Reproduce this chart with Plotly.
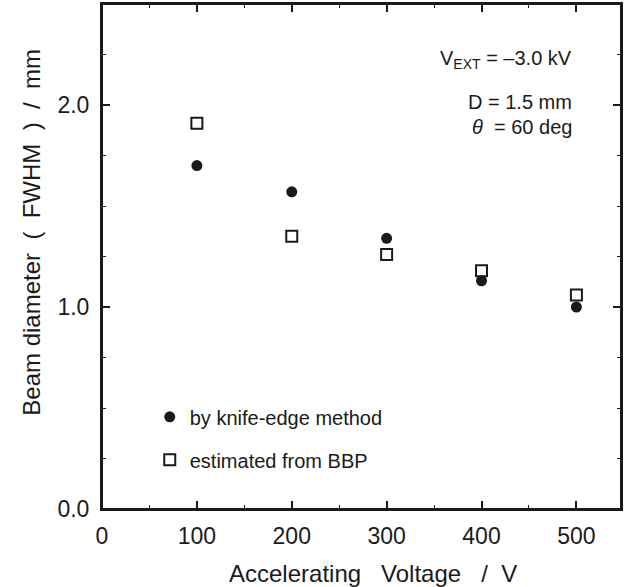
import plotly.graph_objects as go

voltage = [100, 200, 300, 400, 500]
knife_edge = [1.70, 1.57, 1.34, 1.13, 1.00]
bbp_estimate = [1.91, 1.35, 1.26, 1.18, 1.06]
x_ticks = [0, 100, 200, 300, 400, 500]
y_ticks = [0.0, 1.0, 2.0]
y_tick_labels = ["0.0", "1.0", "2.0"]

FONT = "Liberation Sans, Arial, Helvetica, sans-serif"
INK = "#1a1a1a"
NB = "\u00a0"

fig = go.Figure()
fig.add_trace(go.Scatter(x=voltage, y=knife_edge, mode="markers", name="by knife-edge method",
                         legendgroup="a",
                         marker=dict(symbol="circle", size=11, color=INK)))
fig.add_trace(go.Scatter(x=voltage, y=bbp_estimate, mode="markers", name="estimated from BBP",
                         legendgroup="b",
                         marker=dict(symbol="square-open", size=11, color=INK,
                                     line=dict(width=2, color=INK))))

axis_common = dict(showline=True, linecolor=INK, linewidth=2, mirror="allticks",
                   ticks="inside", ticklen=8, tickwidth=1.5, tickcolor=INK,
                   showgrid=False, zeroline=False, automargin=False,
                   tickfont=dict(family=FONT, size=23, color=INK))

fig.update_xaxes(range=[0, 547], tickvals=x_ticks, ticklabelstandoff=5,
                 minor=dict(dtick=50, ticks="inside", ticklen=4, tickcolor=INK, tickwidth=1.2),
                 **axis_common)
fig.update_yaxes(range=[0, 2.5], tickvals=y_ticks, ticktext=y_tick_labels, ticklabelstandoff=6,
                 minor=dict(dtick=0.25, ticks="inside", ticklen=4, tickcolor=INK, tickwidth=1.2),
                 **axis_common)

# plot frame
fig.add_shape(type="rect", xref="paper", yref="paper", x0=0, x1=1, y0=0, y1=1,
              line=dict(color=INK, width=2), fillcolor="rgba(0,0,0,0)", layer="above")

title_font = dict(family=FONT, size=24, color=INK)
fig.add_annotation(xref="paper", yref="paper", x=0.523, y=-0.127, xanchor="center", yanchor="middle",
                   text="Accelerating" + NB * 3 + "Voltage" + NB * 3 + "/" + NB * 2 + "V",
                   showarrow=False, font=title_font)
fig.add_annotation(xref="paper", yref="paper", x=-0.135, y=0.549, xanchor="center", yanchor="middle",
                   textangle=-90,
                   text="Beam" + NB + "diameter" + NB * 2 + "(" + NB * 2 + "FWHM" + NB * 2 + ")" + NB * 2 + "/" + NB * 2 + "mm",
                   showarrow=False, font=dict(family=FONT, size=24, color=INK))

ann_font = dict(family=FONT, size=20, color=INK)
fig.add_annotation(xref="paper", yref="paper", x=0.91, y=0.891, xanchor="right", yanchor="middle",
                   text="V<sub>EXT</sub> = –3.0 kV", showarrow=False, font=ann_font)
fig.add_annotation(xref="paper", yref="paper", x=0.91, y=0.806, xanchor="right", yanchor="middle",
                   text="D = 1.5 mm", showarrow=False, font=ann_font)
fig.add_annotation(xref="paper", yref="paper", x=0.91, y=0.756, xanchor="right", yanchor="middle",
                   text="<i>θ</i>" + NB * 2 + "= 60 deg", showarrow=False, font=ann_font)

fig.update_layout(
    width=627, height=587,
    margin=dict(l=102, r=6, t=4, b=78, autoexpand=False),
    paper_bgcolor="white", plot_bgcolor="white",
    showlegend=True,
    legend=dict(x=0.092, y=0.14, xanchor="left", yanchor="middle", bgcolor="rgba(0,0,0,0)",
                font=dict(family=FONT, size=20, color=INK), tracegroupgap=14,
                traceorder="grouped", itemsizing="trace"),
)

fig.write_html("out.html", config={"displayModeBar": False},
               post_script="document.body.style.margin='0';document.body.style.overflow='hidden';")
